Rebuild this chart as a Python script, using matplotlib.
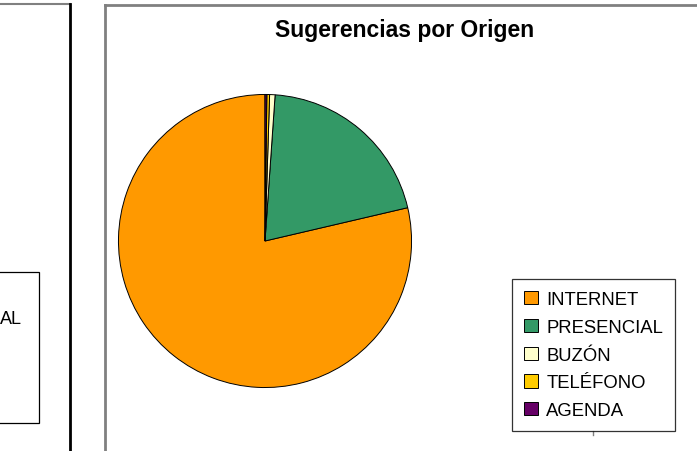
import matplotlib
matplotlib.use("Agg")
import matplotlib.pyplot as plt
from matplotlib.lines import Line2D
from matplotlib.patches import Rectangle

plt.rcParams['font.family'] = ['Liberation Sans', 'DejaVu Sans']

# data (percent of suggestions by origin)
labels = ["INTERNET", "PRESENCIAL", "BUZÓN", "TELÉFONO", "AGENDA"]
values = [78.65, 20.25, 0.6, 0.3, 0.2]
colors = ["#FF9900", "#339966", "#FFFFCC", "#FFCC00", "#660066"]
title = "Sugerencias por Origen"

W, H = 697, 452
fig = plt.figure(figsize=(W / 100, H / 100), dpi=100)


def fx(x):
    return x / W


def fy(y):
    return 1 - y / H


# ==============================================================================
# pie
cx, cy, r = 265, 242, 148
ax = fig.add_axes([fx(cx - r), fy(cy + r), 2 * r / W, 2 * r / H])
wedges, _ = ax.pie(values, colors=colors, startangle=90, counterclock=True,
                   wedgeprops=dict(edgecolor="black", linewidth=0.7))
ax.set_xlim(-1.01, 1.01)
ax.set_ylim(-1.01, 1.01)
ax.axis("off")

fig.text(fx(405), fy(31), title, ha="center", va="center",
         fontsize=16.5, fontweight="bold")

leg = fig.legend(wedges, labels, loc="upper left",
                 bbox_to_anchor=(fx(512), fy(280)), borderaxespad=0,
                 fontsize=13.3, frameon=True, fancybox=False,
                 handlelength=0.75, handleheight=0.72, handletextpad=0.45,
                 labelspacing=0.58, borderpad=0.66)
leg.get_frame().set_edgecolor("black")
leg.get_frame().set_linewidth(0.9)

# ==============================================================================
# surrounding frames from the spreadsheet
lines = [
    ([0, 70], [5, 5], "#808080", 1.5),
    ([70, 70], [5, 452], "black", 2.0),
    ([105, 105], [6, 452], "#808080", 2.0),
    ([105, 697], [6, 6], "#808080", 2.0),
    ([593, 593], [432, 436], "#808080", 1.0),
]
for xs, ys, c, lw in lines:
    fig.add_artist(Line2D([fx(v) for v in xs], [fy(v) for v in ys],
                          color=c, linewidth=lw, transform=fig.transFigure))

fig.add_artist(Rectangle((fx(-5), fy(424)), (39 + 5) / W, (424 - 273) / H,
                         fill=False, edgecolor="black", linewidth=0.9,
                         transform=fig.transFigure))
fig.text(fx(0), fy(320), "AL", ha="left", va="center", fontsize=13)

fig.savefig("out.png", dpi=100)
